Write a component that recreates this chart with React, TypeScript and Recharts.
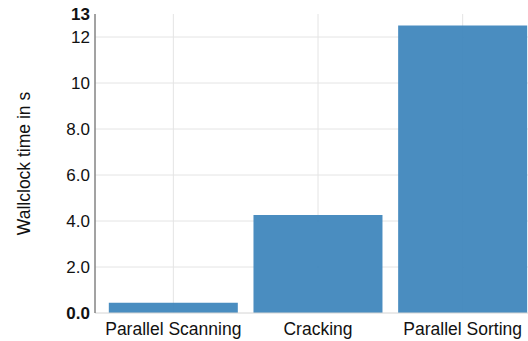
import React from 'react';
import { BarChart, Bar, XAxis, YAxis, CartesianGrid } from 'recharts';

const methods = ['Parallel Scanning', 'Cracking', 'Parallel Sorting'];
const wallclock = [0.45, 4.26, 12.5];
const yTicks = [0, 2, 4, 6, 8, 10, 12, 13];
const yTickLabels = ['0.0', '2.0', '4.0', '6.0', '8.0', '10', '12', '13'];
const boldTicks = [0, 13];
const gridValues = [2, 4, 6, 8, 10, 12];

const data = methods.map((name, i) => ({ name, time: wallclock[i] }));

const FONT = '"Liberation Sans", Arial, sans-serif';

const YTick = (props: any) => {
  const { x, y, payload } = props;
  const idx = yTicks.indexOf(payload.value);
  return (
    <text
      x={x}
      y={y}
      dy="0.36em"
      textAnchor="end"
      fontFamily={FONT}
      fontSize={17}
      fontWeight={boldTicks.includes(payload.value) ? 'bold' : 'normal'}
      fill="#111"
    >
      {yTickLabels[idx]}
    </text>
  );
};

export default function App() {
  return (
    <div style={{ position: 'absolute', left: 0, top: 0, width: 528, height: 341, overflow: 'hidden', background: '#fff' }}>
      <BarChart
        width={535}
        height={341}
        data={data}
        margin={{ top: 14, right: 0, bottom: 0, left: 0 }}
        barCategoryGap="5.4%"
      >
        <CartesianGrid stroke="#e4e4e4" horizontalValues={gridValues} />
        <XAxis
          dataKey="name"
          height={28}
          padding={{ left: 6, right: 0 }}
          tickLine={false}
          tickMargin={4}
          axisLine={{ stroke: '#d4d4d4' }}
          tick={{ fontFamily: FONT, fontSize: 17.5, fill: '#111' }}
          interval={0}
        />
        <YAxis
          width={95}
          domain={[0, 13]}
          ticks={yTicks}
          interval={0}
          tickLine={false}
          tickSize={0}
          tickMargin={5}
          axisLine={{ stroke: '#555' }}
          tick={<YTick />}
          label={{
            value: 'Wallclock time in s',
            angle: -90,
            position: 'center',
            dx: -24,
            style: { fontFamily: FONT, fontSize: 17.5, fill: '#111' },
          }}
        />
        <Bar dataKey="time" fill="#3f86bc" fillOpacity={0.94} isAnimationActive={false} />
      </BarChart>
    </div>
  );
}
